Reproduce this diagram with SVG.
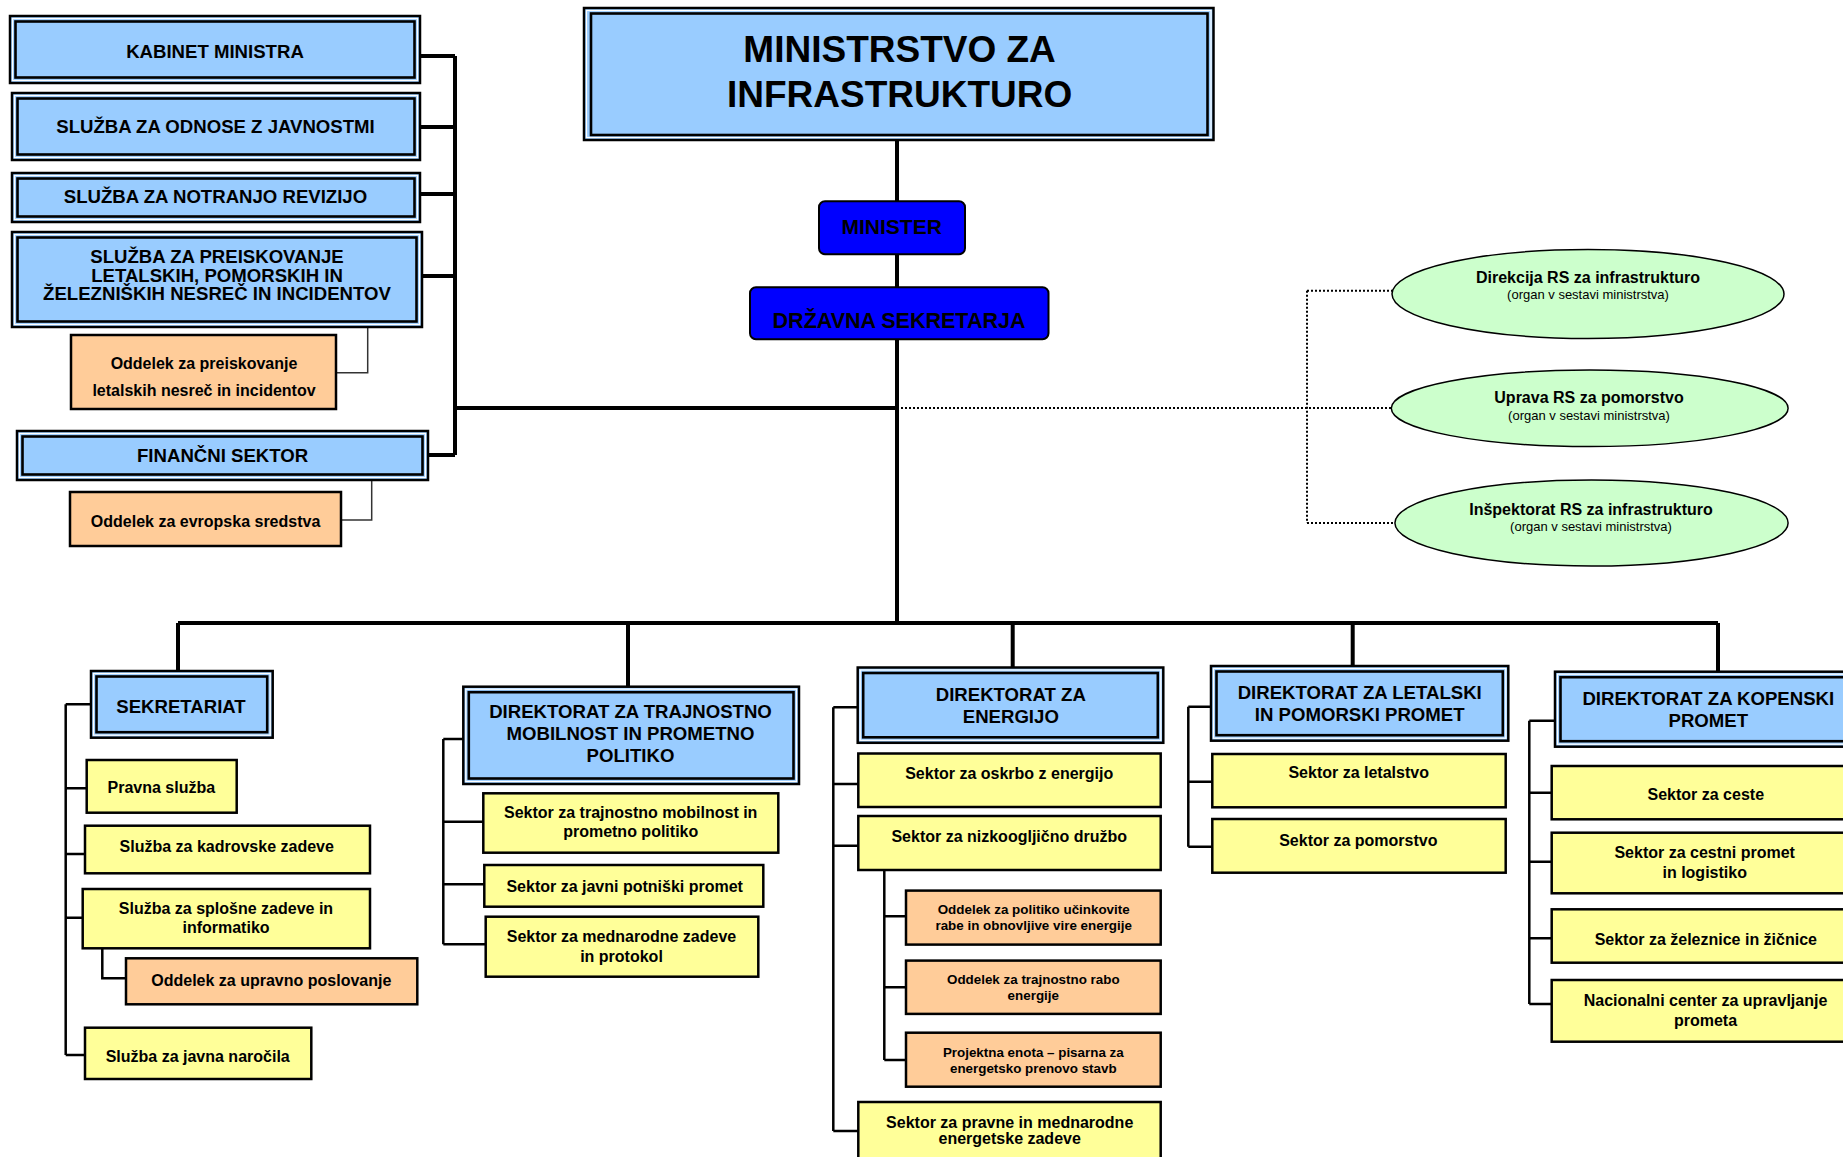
<svg xmlns="http://www.w3.org/2000/svg" width="1843" height="1157" viewBox="0 0 1843 1157">
<style>
.hb{fill:#99CCFF;stroke:#000;stroke-width:2.5}
.hw{fill:none;stroke:#fff;stroke-width:1.2}
.hi{fill:none;stroke:#000;stroke-width:2.6}
.y{fill:#FFFF99;stroke:#000;stroke-width:2.5}
.o{fill:#FFCC99;stroke:#000;stroke-width:2.5}
.e{fill:#CCFFCC;stroke:#000;stroke-width:1.5}
.b{fill:#0000FF;stroke:#000;stroke-width:2}
text{font-family:"Liberation Sans",Arial,sans-serif;font-weight:bold;fill:#000;text-anchor:middle}
.h{font-size:18.6px}
.s{font-size:16px}
.ss{font-size:13.4px}
.t{font-size:37px}
.m{font-size:21px}
.dz{font-size:21.5px}
.n{font-weight:normal;font-size:13px}
.c{fill:none;stroke:#000;stroke-width:4}
.c2{fill:none;stroke:#000;stroke-width:2.5}
.c1{fill:none;stroke:#333;stroke-width:1.5}
.d{fill:none;stroke:#000;stroke-width:2;stroke-dasharray:2 2}
</style>
<rect width="1843" height="1157" fill="#fff"/>

<g id="connectors">
  <path class="c" d="M455,56 V455 M420,56 H455 M420,127 H455 M420,194 H455 M422,276 H455 M428,455 H455 M455,408 H897"/>
  <path class="c1" d="M367.7,327 V372.7 H336 M371.7,480 V520 H341"/>
  <path class="c" d="M897,140 V623 M178,623 H1718 M178,623 V671 M628,623 V687 M1012.7,623 V667.5 M1352.7,623 V666 M1718,623 V671.7"/>
  <path class="d" d="M897,408 H1391 M1307,290.7 V523 M1307,290.7 H1392 M1307,523 H1396"/>
  <path class="c2" d="M65.7,704.3 V1055 M65.7,704.3 H91 M65.7,788.3 H86.7 M65.7,854 H85 M65.7,917.7 H82.7 M65.7,1055 H85 M102.3,948.3 V978.3 H126"/>
  <path class="c2" d="M443.3,739 V944.3 M443.3,739 H463.3 M443.3,821.7 H483.3 M443.3,884.3 H484.3 M443.3,944.3 H485.7"/>
  <path class="c2" d="M833.3,707.3 V1131 M833.3,707.3 H858 M833.3,784 H858.3 M833.3,845.8 H858.3 M833.3,1131 H858.3 M884.3,870 V1060 M884.3,916.2 H906 M884.3,987.2 H906 M884.3,1060 H906"/>
  <path class="c2" d="M1188.3,706.7 V846.7 M1188.3,706.7 H1211 M1188.3,781.7 H1212.3 M1188.3,846.7 H1212.3"/>
  <path class="c2" d="M1529.3,720.7 V1004 M1529.3,720.7 H1555 M1529.3,792.7 H1551.7 M1529.3,861.7 H1551.7 M1529.3,938.3 H1551.7 M1529.3,1004 H1551.7"/>
</g>

<g id="title">
  <rect class="hb" x="584" y="8" width="629.5" height="132"/>
  <rect class="hw" x="586.5" y="10.5" width="624.5" height="127"/>
  <rect class="hi" x="591" y="13.5" width="616.5" height="121.5"/>
  <text class="t" x="899.6" y="61.7">MINISTRSTVO ZA</text>
  <text class="t" x="899.6" y="106.7">INFRASTRUKTURO</text>
</g>
<g id="minister">
  <rect class="b" x="819" y="201.3" width="146" height="53" rx="6"/>
  <text class="m" x="891.7" y="234">MINISTER</text>
</g>
<g id="drzavna">
  <rect class="b" x="750" y="287.3" width="298.5" height="52" rx="6"/>
  <text class="dz" x="899" y="327.5">DRŽAVNA SEKRETARJA</text>
</g>

<g id="kabinet">
  <rect class="hb" x="10" y="16" width="410" height="67"/>
  <rect class="hw" x="12.5" y="18.5" width="405" height="62"/>
  <rect class="hi" x="15.5" y="21.5" width="399" height="56"/>
  <text class="h" x="215" y="58">KABINET MINISTRA</text>
</g>
<g id="odnosi">
  <rect class="hb" x="12" y="93" width="408" height="67"/>
  <rect class="hw" x="14.5" y="95.5" width="403" height="62"/>
  <rect class="hi" x="17.5" y="98.5" width="397" height="56"/>
  <text class="h" x="215.5" y="133.3">SLUŽBA ZA ODNOSE Z JAVNOSTMI</text>
</g>
<g id="revizija">
  <rect class="hb" x="12" y="173" width="408" height="49"/>
  <rect class="hw" x="14.5" y="175.5" width="403" height="44"/>
  <rect class="hi" x="17.5" y="178.5" width="397" height="38"/>
  <text class="h" x="215.5" y="202.7">SLUŽBA ZA NOTRANJO REVIZIJO</text>
</g>
<g id="preiskovanje">
  <rect class="hb" x="12" y="232" width="410" height="95"/>
  <rect class="hw" x="14.5" y="234.5" width="405" height="90"/>
  <rect class="hi" x="17.5" y="237.5" width="399" height="84"/>
  <text class="h" x="217" y="263">SLUŽBA ZA PREISKOVANJE</text>
  <text class="h" x="217" y="281.7">LETALSKIH, POMORSKIH IN</text>
  <text class="h" x="217" y="300.3">ŽELEZNIŠKIH NESREČ IN INCIDENTOV</text>
</g>
<g id="oddelek-preiskovanje">
  <rect class="o" x="71" y="335" width="265" height="74"/>
  <text class="s" x="204" y="369">Oddelek za preiskovanje</text>
  <text class="s" x="204" y="396">letalskih nesreč in incidentov</text>
</g>
<g id="financni">
  <rect class="hb" x="17" y="431" width="411" height="49"/>
  <rect class="hw" x="19.5" y="433.5" width="406" height="44"/>
  <rect class="hi" x="22.5" y="436.5" width="400" height="38"/>
  <text class="h" x="222.6" y="462">FINANČNI SEKTOR</text>
</g>
<g id="oddelek-evropska">
  <rect class="o" x="70" y="492" width="271" height="54"/>
  <text class="s" x="205.6" y="527">Oddelek za evropska sredstva</text>
</g>

<g id="direkcija">
  <ellipse class="e" cx="1588" cy="294" rx="196" ry="44.5"/>
  <text class="s" x="1588" y="282.7">Direkcija RS za infrastrukturo</text>
  <text class="n" x="1588" y="299.3">(organ v sestavi ministrstva)</text>
</g>
<g id="uprava">
  <ellipse class="e" cx="1589.7" cy="408.3" rx="198.4" ry="38.3"/>
  <text class="s" x="1589" y="403.3">Uprava RS za pomorstvo</text>
  <text class="n" x="1589" y="420">(organ v sestavi ministrstva)</text>
</g>
<g id="inspektorat">
  <ellipse class="e" cx="1591.5" cy="523" rx="196.6" ry="43"/>
  <text class="s" x="1591" y="515">Inšpektorat RS za infrastrukturo</text>
  <text class="n" x="1591" y="530.7">(organ v sestavi ministrstva)</text>
</g>

<g id="sekretariat">
  <rect class="hb" x="91" y="671" width="181.7" height="66.7"/>
  <rect class="hw" x="93.5" y="673.5" width="176.7" height="61.7"/>
  <rect class="hi" x="96.5" y="676.5" width="170.7" height="55.7"/>
  <text class="h" x="181" y="713.3">SEKRETARIAT</text>
</g>
<g id="pravna">
  <rect class="y" x="86.7" y="760" width="150" height="52.7"/>
  <text class="s" x="161.3" y="793.3">Pravna služba</text>
</g>
<g id="kadrovske">
  <rect class="y" x="85" y="825.7" width="285" height="47.6"/>
  <text class="s" x="226.7" y="852.3">Služba za kadrovske zadeve</text>
</g>
<g id="splosne">
  <rect class="y" x="82.7" y="889" width="287.3" height="59.3"/>
  <text class="s" x="226" y="914.3">Služba za splošne zadeve in</text>
  <text class="s" x="226" y="933.3">informatiko</text>
</g>
<g id="upravno">
  <rect class="o" x="126" y="958.3" width="291.3" height="46"/>
  <text class="s" x="271.3" y="985.7">Oddelek za upravno poslovanje</text>
</g>
<g id="narocila">
  <rect class="y" x="85" y="1027.7" width="226.3" height="51.3"/>
  <text class="s" x="197.7" y="1062.3">Služba za javna naročila</text>
</g>

<g id="dir-trajnostno">
  <rect class="hb" x="463.3" y="686.7" width="335.7" height="97.3"/>
  <rect class="hw" x="465.8" y="689.2" width="330.7" height="92.3"/>
  <rect class="hi" x="468.8" y="692.2" width="324.7" height="86.3"/>
  <text class="h" x="630.5" y="718.3">DIREKTORAT ZA TRAJNOSTNO</text>
  <text class="h" x="630.5" y="740">MOBILNOST IN PROMETNO</text>
  <text class="h" x="630.5" y="762.3">POLITIKO</text>
</g>
<g id="s-mobilnost">
  <rect class="y" x="483.3" y="793.3" width="295" height="59.4"/>
  <text class="s" x="630.7" y="818.3">Sektor za trajnostno mobilnost in</text>
  <text class="s" x="630.7" y="837.3">prometno politiko</text>
</g>
<g id="s-javni">
  <rect class="y" x="484.3" y="865" width="279" height="41.7"/>
  <text class="s" x="624.7" y="891.7">Sektor za javni potniški promet</text>
</g>
<g id="s-mednarodne">
  <rect class="y" x="485.7" y="916.7" width="272.6" height="60"/>
  <text class="s" x="621.5" y="941.7">Sektor za mednarodne zadeve</text>
  <text class="s" x="621.5" y="961.7">in protokol</text>
</g>

<g id="dir-energijo">
  <rect class="hb" x="857.7" y="667.5" width="305.6" height="75.3"/>
  <rect class="hw" x="860.2" y="670" width="300.6" height="70.3"/>
  <rect class="hi" x="863.2" y="673" width="294.6" height="64.3"/>
  <text class="h" x="1010.8" y="701.2">DIREKTORAT ZA</text>
  <text class="h" x="1010.8" y="722.6">ENERGIJO</text>
</g>
<g id="s-oskrbo">
  <rect class="y" x="858.3" y="753.5" width="302.4" height="53.5"/>
  <text class="s" x="1009.2" y="779.4">Sektor za oskrbo z energijo</text>
</g>
<g id="s-nizko">
  <rect class="y" x="858.3" y="816" width="302.4" height="54"/>
  <text class="s" x="1009.2" y="841.6">Sektor za nizkoogljično družbo</text>
</g>
<g id="o-ucinkovite">
  <rect class="o" x="906" y="890.6" width="254.7" height="54"/>
  <text class="ss" x="1033.7" y="914.4">Oddelek za politiko učinkovite</text>
  <text class="ss" x="1033.7" y="930.4">rabe in obnovljive vire energije</text>
</g>
<g id="o-trajnostno">
  <rect class="o" x="906" y="960.6" width="254.7" height="53.3"/>
  <text class="ss" x="1033.3" y="984.4">Oddelek za trajnostno rabo</text>
  <text class="ss" x="1033.3" y="999.6">energije</text>
</g>
<g id="o-projektna">
  <rect class="o" x="906" y="1032.7" width="254.7" height="54"/>
  <text class="ss" x="1033.3" y="1056.5">Projektna enota – pisarna za</text>
  <text class="ss" x="1033.3" y="1072.5">energetsko prenovo stavb</text>
</g>
<g id="s-pravne">
  <rect class="y" x="858.3" y="1102" width="302.4" height="70"/>
  <text class="s" x="1009.7" y="1127.5">Sektor za pravne in mednarodne</text>
  <text class="s" x="1009.7" y="1144.2">energetske zadeve</text>
</g>

<g id="dir-letalski">
  <rect class="hb" x="1211" y="666" width="297.3" height="74.7"/>
  <rect class="hw" x="1213.5" y="668.5" width="292.3" height="69.7"/>
  <rect class="hi" x="1216.5" y="671.5" width="286.3" height="63.7"/>
  <text class="h" x="1359.7" y="699.3">DIREKTORAT ZA LETALSKI</text>
  <text class="h" x="1359.7" y="720.7">IN POMORSKI PROMET</text>
</g>
<g id="s-letalstvo">
  <rect class="y" x="1212.3" y="754" width="293.4" height="53.3"/>
  <text class="s" x="1358.7" y="778.3">Sektor za letalstvo</text>
</g>
<g id="s-pomorstvo">
  <rect class="y" x="1212.3" y="819" width="293.4" height="53.7"/>
  <text class="s" x="1358.3" y="845.7">Sektor za pomorstvo</text>
</g>

<g id="dir-kopenski">
  <rect class="hb" x="1555" y="671.7" width="310" height="75"/>
  <rect class="hw" x="1557.5" y="674.2" width="305" height="70"/>
  <rect class="hi" x="1560.5" y="677.2" width="299" height="64"/>
  <text class="h" x="1708.3" y="705">DIREKTORAT ZA KOPENSKI</text>
  <text class="h" x="1708.3" y="726.7">PROMET</text>
</g>
<g id="s-ceste">
  <rect class="y" x="1551.7" y="766" width="310" height="53.3"/>
  <text class="s" x="1705.8" y="800">Sektor za ceste</text>
</g>
<g id="s-cestni">
  <rect class="y" x="1551.7" y="832.7" width="310" height="60.6"/>
  <text class="s" x="1704.7" y="858.3">Sektor za cestni promet</text>
  <text class="s" x="1704.7" y="878.3">in logistiko</text>
</g>
<g id="s-zeleznice">
  <rect class="y" x="1551.7" y="909.3" width="310" height="53.4"/>
  <text class="s" x="1705.8" y="945">Sektor za železnice in žičnice</text>
</g>
<g id="s-nacionalni">
  <rect class="y" x="1551.7" y="980" width="310" height="61.7"/>
  <text class="s" x="1705.5" y="1006">Nacionalni center za upravljanje</text>
  <text class="s" x="1705.5" y="1026">prometa</text>
</g>
</svg>
